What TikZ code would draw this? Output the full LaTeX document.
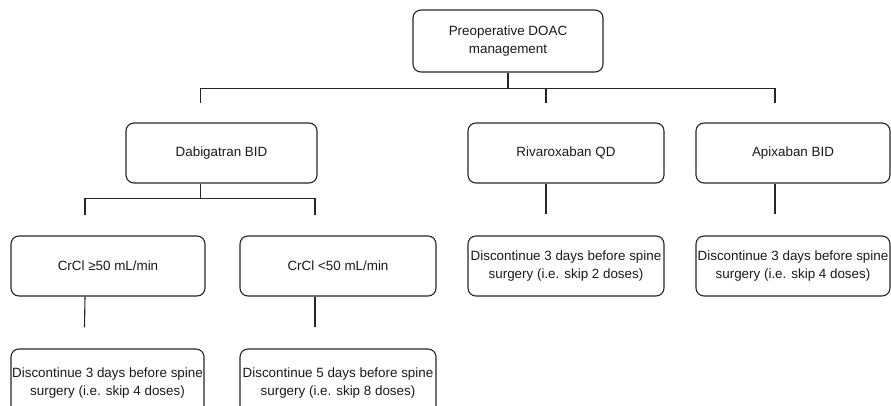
\documentclass[tikz,border=0pt]{standalone}
\usepackage{fontspec}
\setmainfont{Liberation Sans}
\usetikzlibrary{positioning}

\begin{document}
\begin{tikzpicture}[x=1pt,y=-1pt,
		box/.style={draw=black!85,line width=1.1pt,rounded corners=8pt,inner sep=0pt,align=center,
			minimum height=60pt,font=\fontsize{13.4}{17.5}\selectfont,text=black!90},
		wire/.style={draw=black!85,line width=1.1pt}]
		\useasboundingbox (0,0) rectangle (891,406);

		\node[box,minimum width=190pt,minimum height=62pt] (doac) at (508,41) {Preoperative DOAC\\management};

		\node[box,minimum width=191pt] (dabi) at (221.5,153) {Dabigatran BID};
		\node[box,minimum width=196pt] (riva) at (566,153) {Rivaroxaban QD};
		\node[box,minimum width=194pt] (apix) at (793,153) {Apixaban BID};

		\node[box,minimum width=194pt] (high) at (108,266) {CrCl ≥50 mL/min};
		\node[box,minimum width=196pt] (low) at (338,266) {CrCl <50 mL/min};
		\node[box,minimum width=196pt] (rivastop) at (566,266) {Discontinue 3 days before spine\\surgery (i.e. skip 2 doses)};
		\node[box,minimum width=194pt] (apixstop) at (793,266) {Discontinue 3 days before spine\\surgery (i.e. skip 4 doses)};

		\node[box,minimum width=193pt,minimum height=68pt] (highstop) at (107.5,383) {Discontinue 3 days before spine\\surgery (i.e. skip 4 doses)};
		\node[box,minimum width=196pt,minimum height=68pt] (lowstop) at (338,383) {Discontinue 5 days before spine\\surgery (i.e. skip 8 doses)};

		% free ends of the connectors, short of each box
		\coordinate (dabi in) at ([xshift=-21pt,yshift=19pt]dabi.north);
		\coordinate (riva in) at ([xshift=-20pt,yshift=19pt]riva.north);
		\coordinate (apix in) at ([xshift=-18pt,yshift=19pt]apix.north);
		\coordinate (high in) at ([xshift=-23pt,yshift=20pt]high.north);
		\coordinate (low in) at ([xshift=-23pt,yshift=20pt]low.north);
		\coordinate (rivastop in) at ([xshift=-20pt,yshift=21pt]rivastop.north);
		\coordinate (apixstop in) at ([xshift=-18pt,yshift=21pt]apixstop.north);
		\coordinate (highstop in) at ([xshift=-23pt,yshift=21pt]highstop.north);
		\coordinate (lowstop in) at ([xshift=-23pt,yshift=21pt]lowstop.north);

		\draw[wire] (doac.south) -- ++(0,16) coordinate (doac bar) -| (dabi in);
		\draw[wire] (doac bar) -| (apix in);
		\draw[wire] (riva in |- doac bar) -- (riva in);

		\draw[wire] (dabi in |- dabi.south) -- ++(0,15) coordinate (dabi bar) -| (high in);
		\draw[wire] (dabi bar) -| (low in);

		\draw[wire] (riva in |- riva.south) -- (rivastop in);
		\draw[wire] (apix in |- apix.south) -- (apixstop in);
		\draw[wire] (high in |- high.south) -- (highstop in);
		\draw[wire] (low in |- low.south) -- (lowstop in);
	\end{tikzpicture}
\end{document}
